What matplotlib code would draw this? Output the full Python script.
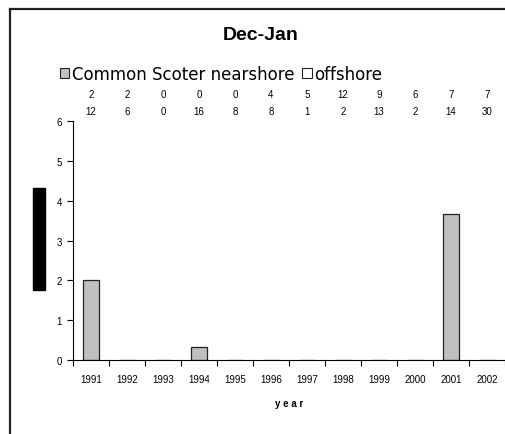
import matplotlib
matplotlib.use("Agg")
import matplotlib.pyplot as plt
from matplotlib.patches import Patch, Rectangle
from matplotlib.lines import Line2D
import numpy as np

plt.rcParams['font.family'] = ['Liberation Sans', 'DejaVu Sans']

years = ["1991", "1992", "1993", "1994", "1995", "1996",
         "1997", "1998", "1999", "2000", "2001", "2002"]
nearshore = [2.0, 0, 0, 0.33, 0, 0, 0, 0, 0, 0, 3.67, 0]
offshore = [0, 0, 0, 0, 0, 0, 0, 0, 0, 0, 0, 0]
n_near = [2, 2, 0, 0, 0, 4, 5, 12, 9, 6, 7, 7]
n_off = [12, 6, 0, 16, 8, 8, 1, 2, 13, 2, 14, 30]

W, H = 505, 435
fig = plt.figure(figsize=(W / 100, H / 100), dpi=100)

# outer frame (left and top edges only show)
fig.add_artist(Line2D([10 / W, 10 / W], [0, 1 - 10 / H], color="#222222", lw=1.6))
fig.add_artist(Line2D([10 / W, 1], [1 - 10 / H, 1 - 10 / H], color="#222222", lw=1.6))

ax = fig.add_axes([73 / W, (H - 361) / H, 432 / W, (361 - 122) / H])
x = np.arange(len(years))
ax.bar(x, nearshore, width=0.44, color="#c0c0c0", edgecolor="#222222", lw=0.9)
ax.bar(x + 0.44, offshore, width=0.44, color="white", edgecolor="none")

ax.set_xlim(-0.5, len(years) - 0.5)
ax.set_ylim(0, 6)
ax.set_yticks(range(0, 7))
ax.tick_params(axis="y", labelsize=7, length=4, width=0.8, pad=4)

ax.set_xticks(np.arange(-0.5, len(years), 1.0))
ax.set_xticklabels([])
ax.tick_params(axis="x", which="major", length=4, width=0.8)
ax.set_xticks(x, minor=True)
ax.set_xticklabels(years, minor=True, fontsize=7)
ax.tick_params(axis="x", which="minor", length=0, pad=10)

for s in ["top", "right"]:
    ax.spines[s].set_visible(False)
ax.spines["left"].set_linewidth(0.8)
ax.spines["bottom"].set_linewidth(0.8)

# sample counts above each year
for i in range(len(years)):
    ax.text(x[i], 6.68, str(n_near[i]), ha="center", va="center", fontsize=7, clip_on=False)
    ax.text(x[i], 6.25, str(n_off[i]), ha="center", va="center", fontsize=7, clip_on=False)

ax.set_xlabel("y e a r", fontsize=7, fontweight="bold", labelpad=10)

fig.text(261 / W, 1 - 36 / H, "Dec-Jan", ha="center", va="center",
         fontsize=14, fontweight="bold")

handles = [Patch(facecolor="#c0c0c0", edgecolor="#222222", lw=0.8),
           Patch(facecolor="white", edgecolor="#222222", lw=0.8)]
fig.legend(handles, ["Common Scoter nearshore", "offshore"], ncol=2,
           loc="center", bbox_to_anchor=(221 / W, 1 - 75 / H), frameon=False,
           prop={"family": "DejaVu Sans", "size": 12},
           handlelength=0.55, handleheight=0.55, handletextpad=0.15,
           columnspacing=0.5)

# blacked-out axis label
fig.add_artist(Rectangle((33 / W, 1 - 291 / H), 12 / W, 102 / H,
                         transform=fig.transFigure, color="black"))

fig.savefig("out.png", dpi=100)
